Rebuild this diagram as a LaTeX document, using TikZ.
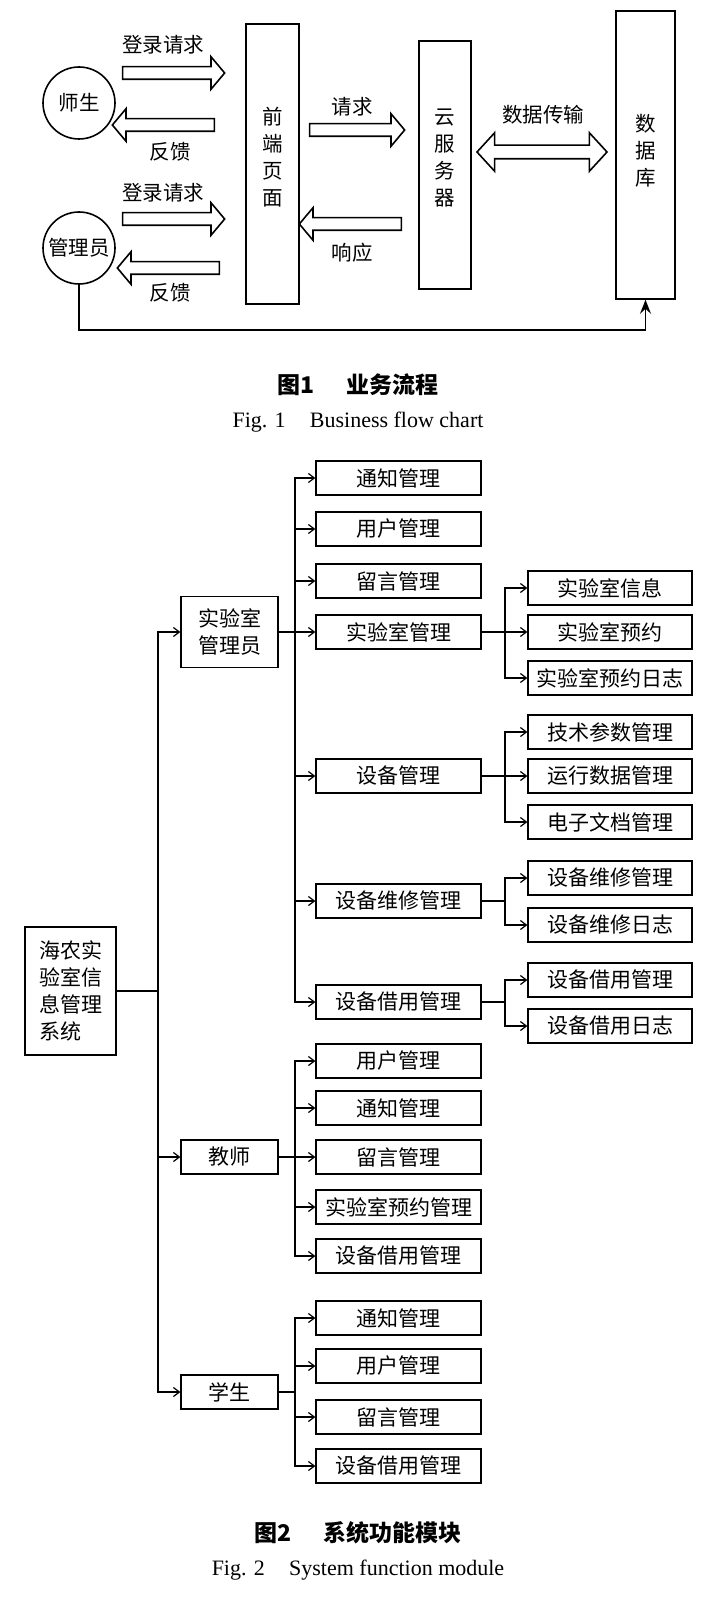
\documentclass[tikz,border=0pt]{standalone}
\usepackage{fontspec}
\setmainfont{Liberation Serif}
\newfontfamily\cjk{Noto Sans CJK SC}
\usetikzlibrary{arrows.meta,positioning,shapes.arrows}

\begin{document}
\begin{tikzpicture}[x=1pt, y=-1pt,
  actor/.style={draw, circle, line width=1.6pt, minimum size=72pt, inner sep=0pt,
    font=\cjk\fontsize{20.5pt}{27pt}\selectfont},
  tier/.style={draw, line width=1.6pt, align=center, inner sep=0pt,
    font=\cjk\fontsize{20.5pt}{27pt}\selectfont},
  fat/.style={draw, single arrow, line width=1.6pt, inner sep=5.5pt,
    single arrow head extend=10pt, minimum width=31pt, single arrow tip angle=100},
  flowtag/.style={inner sep=0pt, font=\cjk\fontsize{20.5pt}{24pt}\selectfont},
  module/.style={draw, line width=1.2pt, minimum width=165pt, minimum height=34pt,
    inner sep=0pt, font=\cjk\fontsize{21pt}{27pt}\selectfont},
  leaf/.style={module, minimum width=164pt},
  role/.style={module, minimum width=97pt, align=center},
  feed/.style={-{Straight Barb[length=6pt,width=9pt]}, line width=1.2pt},
  figcap/.style={inner sep=0pt, font=\cjk\bfseries\fontsize{23pt}{28pt}\selectfont},
  figcapen/.style={inner sep=0pt, font=\fontsize{22pt}{26pt}\selectfont}
]
\useasboundingbox (0,0) rectangle (706,1602);

\node[actor] (teach) at (79,103) {师生};
\node[actor] (admin) at (79,248) {管理员};
\node[tier, minimum width=53pt, minimum height=280pt, text depth=16pt] (front) at (272.5,164) {前\\端\\页\\面};
\node[tier, minimum width=52pt, minimum height=248pt, text depth=16pt] (cloud) at (445,165) {云\\服\\务\\器};
\node[tier, minimum width=59pt, minimum height=288pt, text depth=10pt] (db) at (645.5,155) {数\\据\\库};

\node[fat, minimum height=102pt] (login1) at (171,73) {};
\node[fat, minimum height=102pt, shape border rotate=180] (back1) at (166,125) {};
\node[fat, minimum height=102pt] (login2) at (171,219) {};
\node[fat, minimum height=102pt, shape border rotate=180] (back2) at (171,268) {};
\node[fat, minimum height=95pt] (ask) at (354.5,130) {};
\node[fat, minimum height=102pt, shape border rotate=180] (reply) at (353,224) {};
\node[draw, double arrow, line width=1.6pt, inner sep=6pt, double arrow head extend=12.5pt,
  minimum width=37pt, minimum height=130pt, double arrow tip angle=95] (sync) at (542,152) {};

\node[flowtag] (login1txt) at (163,45) {登录请求};
\node[flowtag] (back1txt) at (170,152) {反馈};
\node[flowtag] (login2txt) at (163,193) {登录请求};
\node[flowtag] (back2txt) at (170,293) {反馈};
\node[flowtag] (asktxt) at (352,107) {请求};
\node[flowtag] (replytxt) at (352,253) {响应};
\node[flowtag] (synctxt) at (543,115) {数据传输};

\coordinate (floor) at (0,330);
\draw[line width=1.6pt, -{Stealth[length=14pt,width=11pt,inset=5pt]}]
  (admin.south) -- (admin.south |- floor) -| (db.south);

\node[figcap] (cap1) at (358,385) {图1\hspace{1.4em}业务流程};
\node[figcapen] (cap1en) at (358,422) {Fig. 1\hspace{1.1em}Business flow chart};

\node[module, minimum width=91pt, minimum height=128pt, align=left] (root) at (70.5,991)
  {海农实\\验室信\\息管理\\系统};
\node[role, minimum height=71pt] (adm) at (229.5,632) {实验室\\管理员};
\node[role] (tch) at (229.5,1157) {教师};
\node[role] (stu) at (229.5,1392) {学生};

\foreach \n/\y/\t in {a1/478/通知管理, a2/529/用户管理, a3/581/留言管理, a4/632/实验室管理,
  a5/776/设备管理, a6/901/设备维修管理, a7/1002/设备借用管理,
  t1/1061/用户管理, t2/1108/通知管理, t3/1157/留言管理, t4/1207/实验室预约管理, t5/1256/设备借用管理,
  s1/1318/通知管理, s2/1366/用户管理, s3/1417/留言管理, s4/1466/设备借用管理}
  \node[module] (\n) at (398.5,\y) {\t};

\foreach \n/\y/\t in {l1/588/实验室信息, l2/632/实验室预约, l3/678/实验室预约日志,
  d1/732/技术参数管理, d2/776/运行数据管理, d3/822/电子文档管理,
  r1/878/设备维修管理, r2/925/设备维修日志, b1/980/设备借用管理, b2/1026/设备借用日志}
  \node[leaf] (\n) at (610,\y) {\t};

\coordinate (spine) at (158,0);
\coordinate (branch) at (295,0);
\coordinate (twig) at (505,0);

\draw[line width=1.2pt] (root.east) -- (root.east -| spine);
\foreach \r in {adm,tch,stu}
  \draw[feed] (root.east -| spine) |- (\r.west);
\foreach \c in {a1,a2,a3,a4,a5,a6,a7}
  \draw[feed] (adm.east) -- (adm.east -| branch) |- (\c.west);
\foreach \c in {t1,t2,t3,t4,t5}
  \draw[feed] (tch.east) -- (tch.east -| branch) |- (\c.west);
\foreach \c in {s1,s2,s3,s4}
  \draw[feed] (stu.east) -- (stu.east -| branch) |- (\c.west);
\foreach \p/\c in {a4/l1, a4/l2, a4/l3, a5/d1, a5/d2, a5/d3, a6/r1, a6/r2, a7/b1, a7/b2}
  \draw[feed] (\p.east) -- (\p.east -| twig) |- (\c.west);

\node[figcap] (cap2) at (358,1533) {图2\hspace{1.4em}系统功能模块};
\node[figcapen] (cap2en) at (358,1570) {Fig. 2\hspace{1.1em}System function module};

\end{tikzpicture}
\end{document}
